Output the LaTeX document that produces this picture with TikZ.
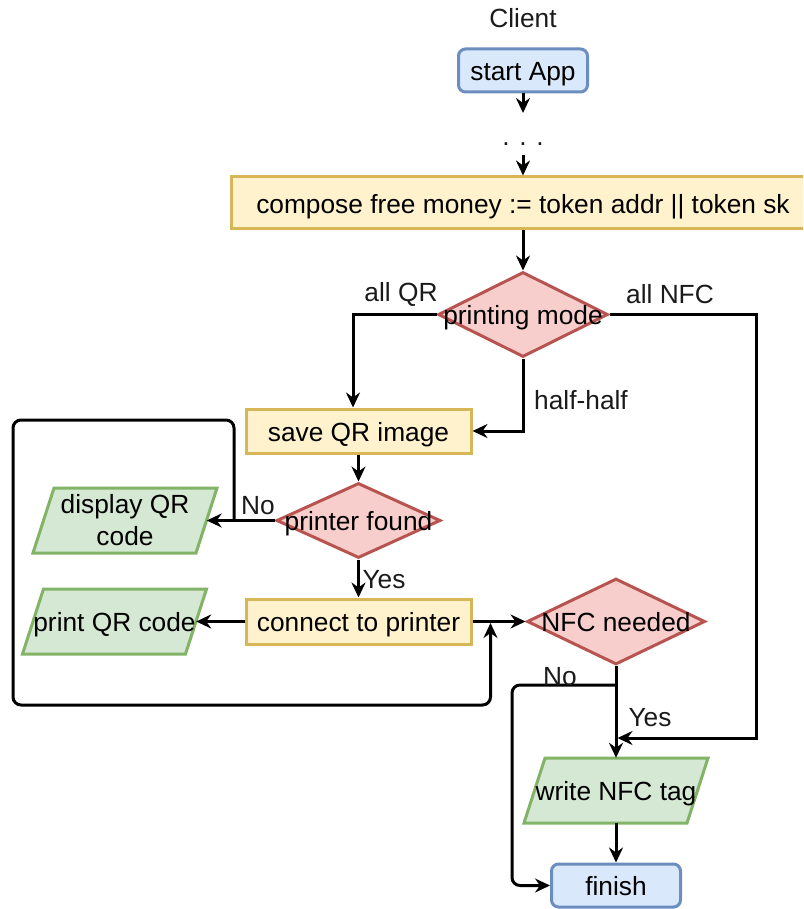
\documentclass[tikz,border=0pt]{standalone}
\usepackage{fontspec}
\setmainfont{Liberation Sans}
\usetikzlibrary{arrows.meta,shapes.geometric,calc}

\definecolor{blueF}{HTML}{DAE8FC}
\definecolor{blueS}{HTML}{6C8EBF}
\definecolor{yelF}{HTML}{FFF2CC}
\definecolor{yelS}{HTML}{D6B656}
\definecolor{redF}{HTML}{F8CECC}
\definecolor{redS}{HTML}{B85450}
\definecolor{grnF}{HTML}{D5E8D4}
\definecolor{grnS}{HTML}{82B366}
\definecolor{ink}{HTML}{1A1A1A}

% parallelogram outline around a centre point (width 163 at mid height, height 65)
\newcommand\ioshape[1]{%
  \draw[iobody] ($(#1)+(-71,-32.5)$) -- ($(#1)+(92,-32.5)$) --
    ($(#1)+(71,32.5)$) -- ($(#1)+(-92,32.5)$) -- cycle;}

\begin{document}
\begin{tikzpicture}[x=1pt,y=-1pt,
  font=\fontsize{26.3}{32}\selectfont,
  onerow/.style={text height=20.6pt, text depth=0pt},
  term/.style={onerow, draw=blueS, fill=blueF, line width=3pt, rounded corners=7pt,
    minimum width=129, minimum height=43, inner sep=0},
  proc/.style={onerow, draw=yelS, fill=yelF, line width=3pt,
    minimum width=225, minimum height=44, inner sep=0},
  dec/.style={onerow, diamond, draw=redS, fill=redF, line width=3pt, inner sep=0},
  iobody/.style={draw=grnS, fill=grnF, line width=3pt, line join=miter},
  io/.style={minimum width=163, minimum height=65, inner sep=0, align=center},
  lbl/.style={inner sep=0, text=ink},
  arr/.style={-{Stealth[length=15pt,width=14pt,inset=5pt]}, line width=3pt},
]
\clip (0,0) rectangle (803,909);

% header
\node[lbl] (client) at (523,18) {Client};
\node[term] (start) at (523,70.5) {start App};
\node[lbl, anchor=base] (dots) at (523,145.5) {. . .};
\coordinate (d1) at (523,113);
\coordinate (d2) at (523,155);

% main column
\node[proc, minimum width=584, minimum height=52] (compose) at (523,203)
  {compose free money := token addr || token sk};
\node[dec, minimum width=170, minimum height=85] (mode) at (523,314.5)
  {\makebox[0pt]{printing mode}};

% QR branch
\node[proc, minimum width=225] (save) at (358.5,431) {save QR image};
\node[dec, minimum width=164, minimum height=75] (found) at (358.5,520.5)
  {\makebox[0pt]{printer found}};
\node[proc, minimum width=225, minimum height=45] (connect) at (358.5,621.5)
  {connect to printer};

\coordinate (dispC) at (125,520.5);
\ioshape{dispC}
\node[io] (disp) at (dispC) {display QR\\code};
\coordinate (printC) at (114.5,621.5);
\ioshape{printC}
\node[io, onerow] (printqr) at (printC) {print QR code};

% NFC branch
\node[dec, minimum width=178, minimum height=86] (nfc) at (616,621.5)
  {\makebox[0pt]{NFC needed}};
\coordinate (writeC) at (616,790.5);
\ioshape{writeC}
\node[io, onerow] (write) at (writeC) {write NFC tag};
\node[term] (finish) at (616,885.5) {finish};

% connectors
\draw[arr] (start.south) -- (d1);
\draw[arr] (d2) -- (compose.north);
\draw[arr] (compose.south) -- (mode.north);

\draw[arr] (mode.west) -| ([xshift=-5.5pt]save.north);
\draw[arr] (mode.south) |- (save.east);
\coordinate (nfcCorner) at (756,314.5);
\coordinate (nfcIn) at (617.5,738);
\draw[arr] (mode.east) -- (nfcCorner) |- (nfcIn);

\draw[arr] (save.south) -- (found.north);
\draw[arr] (found.west) -- (disp.east);
\coordinate (loopStart) at (234,520.5);
\coordinate (loopEnd) at (490.5,623);
\draw[arr, rounded corners=8pt] (loopStart) |- (13,420) |- (490.5,705) -- (loopEnd);
\draw[arr] (found.south) -- (connect.north);
\draw[arr] (connect.west) -- (printqr.east);
\draw[arr] (connect.east) -- (nfc.west);

\draw[arr] (nfc.south) -- (write.north);
\coordinate (nfcNo) at (616,685);
\draw[arr, rounded corners=8pt] (nfcNo) -- (512,685) |- (finish.west);
\draw[arr] (write.south) -- (finish.north);

% edge labels
\node[lbl] (lAllQR) at (401,294) {all QR};
\node[lbl] (lAllNFC) at (670,294) {all NFC};
\node[lbl] (lHalf) at (581,400) {half-half};
\node[lbl] (lNo1) at (258,506) {No};
\node[lbl] (lYes1) at (384,580) {Yes};
\node[lbl] (lNo2) at (560,677) {No};
\node[lbl] (lYes2) at (650,718) {Yes};
\end{tikzpicture}
\end{document}
